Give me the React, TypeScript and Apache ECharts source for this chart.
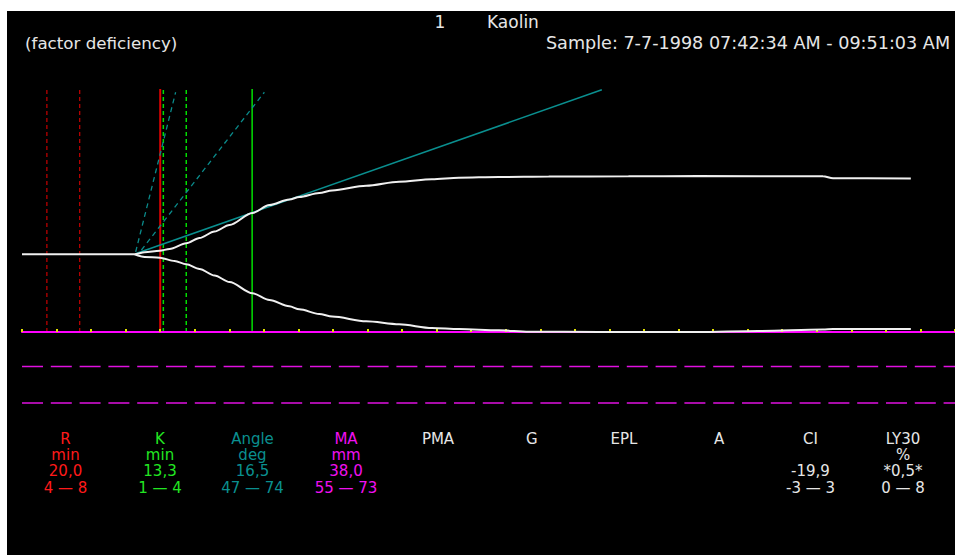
import React, { useEffect, useRef } from "react";
import * as echarts from "echarts";

// Time axis in minutes, amplitude in mm (0 = lower trace baseline)
const TIME_MIN = 0;
const TIME_MAX = 135;
const TIME_TICK = 5;
const AMP_MIN = -20;
const AMP_MAX = 60;
const PLOT_TOP = 60;

const upperTrace: [number, number][] = [
  [0, 19.19], [16.31, 19.19], [17.75, 19.68], [19.92, 20.07], [21.36, 20.49],
  [23.77, 21.9], [25.69, 23.21], [27.86, 24.81], [30.02, 26.42], [33.34, 29.38],
  [35.8, 31.36], [38.68, 32.72], [40.13, 33.33], [43.01, 34.3], [44.89, 34.95],
  [49.8, 36.12], [54.56, 37.11], [59.32, 37.7], [63.22, 38.1], [69.0, 38.27],
  [76.21, 38.4], [87.76, 38.44], [97.86, 38.52], [115.9, 38.44], [117.35, 37.98],
  [128.61, 37.9],
];
const lowerTrace: [number, number][] = [
  [16.31, 19.19], [17.75, 18.52], [19.92, 18.35], [22.08, 17.53], [23.77, 16.72],
  [25.69, 15.56], [27.86, 13.95], [30.02, 12.35], [33.34, 9.56], [35.8, 7.9],
  [38.68, 6.35], [40.13, 5.6], [43.01, 4.45], [44.89, 3.8], [49.8, 2.64],
  [54.56, 1.9], [59.32, 0.99], [63.22, 0.74], [69.0, 0.42], [73.33, 0.07],
  [83.43, 0], [97.86, 0], [106.5, 0.25], [115.9, 0.6], [117.35, 0.74],
  [128.61, 0.74],
];

const rRangeTimes = [3.6, 8.35];
const rTime = 20.0;
const kRangeTimes = [20.45, 23.77];
const kTime = 33.3;
const angleTangent: [number, number][] = [[16.5, 19.4], [83.9, 59.8]];
const angleRangeSteep: [number, number][] = [[16.45, 19.8], [22.23, 59.2]];
const angleRangeShallow: [number, number][] = [[17.28, 20.25], [35.07, 59.2]];
const maRangeLevels = [-8.5, -17.5];

const paramNames = ["R", "K", "Angle", "MA", "PMA", "G", "EPL", "A", "CI", "LY30"];
const paramUnits = ["min", "min", "deg", "mm", "", "", "", "", "", "%"];
const paramValues = ["20,0", "13,3", "16,5", "38,0", "", "", "", "", "-19,9", "*0,5*"];
const paramRanges = ["4 — 8", "1 — 4", "47 — 74", "55 — 73", "", "", "", "", "-3 — 3", "0 — 8"];

const headerLeft = "(factor deficiency)";
const headerNumber = "1";
const headerTitle = "Kaolin";
const headerSample = "Sample: 7-7-1998 07:42:34 AM - 09:51:03 AM";

// layout / style
const colX = [65.5, 160, 252.5, 346, 438, 531.7, 624, 719, 810.5, 903];
const rowY = [438.7, 455, 471.3, 488];
const colColors = ["#ff1a1a", "#22e622", "#0a8f8f", "#f010f0", "#e6e6e6", "#e6e6e6", "#e6e6e6", "#e6e6e6", "#e6e6e6", "#e6e6e6"];
const FONT = '"DejaVu Sans", Verdana, sans-serif';

function seg(data: [number, number][], color: string, width: number, dash?: number[], z = 3, smooth = 0) {
  return {
    type: "line",
    data,
    symbol: "none",
    silent: true,
    z,
    smooth,
    smoothMonotone: smooth ? "x" : undefined,
    lineStyle: { color, width, type: dash ? dash : "solid" },
  };
}

function vline(t: number): [number, number][] {
  return [[t, 0], [t, PLOT_TOP]];
}

export default function App() {
  const ref = useRef<HTMLDivElement>(null);

  useEffect(() => {
    document.body.style.margin = "0";
    document.body.style.overflow = "hidden";
    if (!ref.current) return;
    const chart = echarts.init(ref.current, null, { renderer: "svg" });

    const texts: any[] = [];
    const mkText = (text: string, x: number, y: number, fill: string, size: number, align = "center") => ({
      type: "text",
      x,
      y,
      z: 100,
      silent: true,
      style: {
        text,
        fill,
        font: `${size}px ${FONT}`,
        textAlign: align,
        align,
        textVerticalAlign: "middle",
        verticalAlign: "middle",
      },
    });
    paramNames.forEach((n, i) => {
      const rows = [n, paramUnits[i], paramValues[i], paramRanges[i]];
      rows.forEach((r, j) => {
        if (r) texts.push(mkText(r, colX[i], rowY[j], colColors[i], 15));
      });
    });
    texts.push(mkText(headerLeft, 25, 43, "#e6e6e6", 16.7, "left"));
    texts.push(mkText(headerNumber, 440, 21.5, "#e6e6e6", 17, "center"));
    texts.push(mkText(headerTitle, 487, 21.5, "#e6e6e6", 17, "left"));
    texts.push(mkText(headerSample, 748, 43, "#e6e6e6", 17.6, "center"));

    const series: any[] = [
      ...rRangeTimes.map((t) => seg(vline(t), "#c80000", 1.2, [4, 3])),
      ...kRangeTimes.map((t) => seg(vline(t), "#00e000", 1.5, [4, 3])),
      seg(vline(rTime), "#e00000", 2),
      seg(vline(kTime), "#00e000", 1.5),
      seg(angleRangeSteep, "#0a8a8a", 1.3, [5, 4]),
      seg(angleRangeShallow, "#0a8a8a", 1.3, [5, 4]),
      seg(angleTangent, "#0a8f8f", 1.6),
      ...maRangeLevels.map((v) =>
        seg([[TIME_MIN, v], [TIME_MAX, v]], "#e010e0", 1.5, [21, 7.8])
      ),
      seg(upperTrace, "#f0f0f0", 2, undefined, 5, 0.3),
      seg(lowerTrace, "#f0f0f0", 2, undefined, 5, 0.3),
    ];

    chart.setOption({
      animation: false,
      backgroundColor: "#000000",
      grid: { left: 22, right: -2, top: 89, height: 324 },
      xAxis: {
        type: "value",
        min: TIME_MIN,
        max: TIME_MAX,
        interval: TIME_TICK,
        z: 4,
        axisLine: { show: true, onZero: true, lineStyle: { color: "#ff00ff", width: 2 } },
        axisTick: { show: true, inside: true, length: 3, lineStyle: { color: "#e0e000", width: 2 } },
        axisLabel: { show: false },
        splitLine: { show: false },
      },
      yAxis: {
        type: "value",
        min: AMP_MIN,
        max: AMP_MAX,
        show: false,
        splitLine: { show: false },
      },
      series,
      graphic: [
        { type: "rect", z: 200, silent: true, shape: { x: 0, y: 0, width: 955, height: 11 }, style: { fill: "#ffffff" } },
        { type: "rect", z: 200, silent: true, shape: { x: 0, y: 0, width: 7, height: 555 }, style: { fill: "#ffffff" } },
        ...texts,
      ],
    });

    return () => chart.dispose();
  }, []);

  return <div ref={ref} style={{ width: 955, height: 555 }} />;
}
